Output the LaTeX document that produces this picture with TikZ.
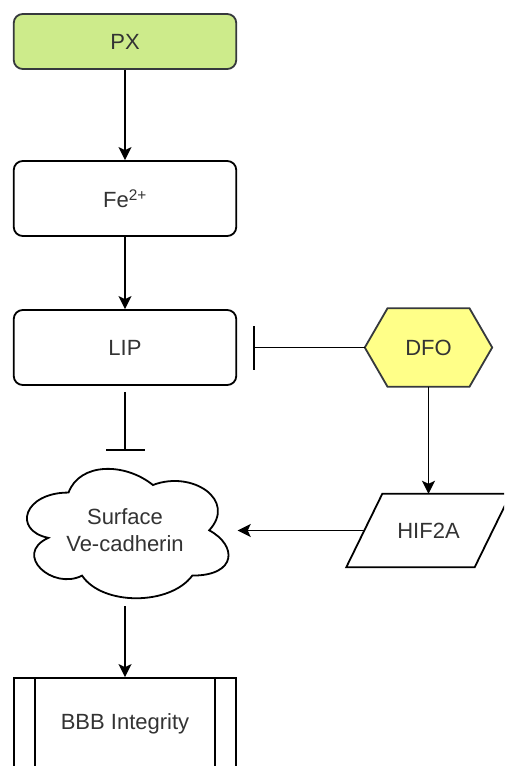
\documentclass[tikz,border=0pt]{standalone}
\usepackage{fontspec}
\setmainfont{Liberation Sans}
\usetikzlibrary{arrows.meta,backgrounds}
\definecolor{pxgreen}{HTML}{CDEB8B}
\definecolor{dfoyellow}{HTML}{FFFF88}
\definecolor{edgegray}{HTML}{36393D}
\definecolor{txt}{HTML}{333333}
\tikzset{
  lw/.style={line width=1.8pt},
  base/.style={font=\fontsize{22}{27}\selectfont, text=txt},
  rbox/.style={base, lw, draw=black, rounded corners=9pt, minimum width=222.5pt, inner sep=0pt, fill=white},
  ghost/.style={base, inner sep=0pt, align=center},
  shapeline/.style={lw, draw=black},
  conn/.style={lw, -{Stealth[length=13pt,width=13pt,inset=3pt]}},
  inhiblong/.style={lw, -{Bar[width=44pt,line width=1.8pt]}},
  inhibshort/.style={lw, -{Bar[width=39pt,line width=1.8pt]}},
}
\begin{document}
\begin{tikzpicture}[x=1pt,y=-1pt]
\useasboundingbox (0,0) rectangle (504,766);
\clip (0,0) rectangle (504,766);

% nodes
\node[rbox, fill=pxgreen, draw=edgegray, minimum height=55pt] (px) at (125,41.5) {PX};
\node[rbox, minimum height=75pt] (fe) at (125,198.5) {Fe\textsuperscript{2+}};
\node[rbox, minimum height=75pt] (lip) at (125,347.5) {LIP};
\node[ghost, minimum width=127pt, minimum height=78pt] (dfo) at (428.5,347.5) {DFO};
\node[ghost, minimum width=164pt, minimum height=73pt] (hif) at (428.5,530.5) {HIF2A};
\node[ghost, minimum width=225pt, minimum height=151pt] (cloud) at (125,530.5) {Surface\\Ve-cadherin};
\node[base, lw, draw=black, fill=white, minimum width=222.5pt, minimum height=92pt, inner sep=0pt] (bbb) at (125,724) {BBB Integrity};

\begin{scope}[on background layer]
  \clip (0,0) rectangle (504,766);
  \fill[white] (0,0) rectangle (504,766);
  % hexagon DFO
  \filldraw[lw, draw=edgegray, fill=dfoyellow]
    (dfo.west) -- ([xshift=-41pt]dfo.north) -- ([xshift=41pt]dfo.north) -- (dfo.east)
    -- ([xshift=41pt]dfo.south) -- ([xshift=-41pt]dfo.south) -- cycle;
  % parallelogram HIF2A
  \filldraw[shapeline, fill=white]
    (hif.south west) -- ([xshift=-36pt]hif.south east) -- (hif.north east)
    -- ([xshift=36pt]hif.north west) -- cycle;
  % cloud
  \begin{scope}[shift={(cloud.north west)}, x=225pt, y=-151pt]
    \filldraw[shapeline, fill=white]
      (0.25,0.25) .. controls (0.05,0.25) and (0,0.5) .. (0.16,0.55)
      .. controls (0,0.66) and (0.18,0.9) .. (0.31,0.8)
      .. controls (0.4,1) and (0.7,1) .. (0.8,0.8)
      .. controls (1,0.8) and (1,0.6) .. (0.875,0.5)
      .. controls (1,0.3) and (0.8,0.1) .. (0.625,0.2)
      .. controls (0.5,0.05) and (0.3,0.05) .. (0.25,0.25) -- cycle;
  \end{scope}
\end{scope}

% process side lines
\draw[shapeline] ([xshift=22pt]bbb.north west) -- ([xshift=22pt]bbb.south west);
\draw[shapeline] ([xshift=-22pt]bbb.north east) -- ([xshift=-22pt]bbb.south east);

% connectors
\draw[conn] (px) -- (fe);
\draw[conn] (fe) -- (lip);
\draw[conn] (dfo) -- (hif);
\draw[conn] ([xshift=18pt]hif.west) -- (cloud.east);
\draw[conn] (cloud) -- (bbb);
\draw[inhiblong] (dfo.west) -- ([xshift=16pt]lip.east);
\draw[inhibshort] ([yshift=-6pt]lip.south) -- ([yshift=4pt]cloud.north);
\end{tikzpicture}
\end{document}
